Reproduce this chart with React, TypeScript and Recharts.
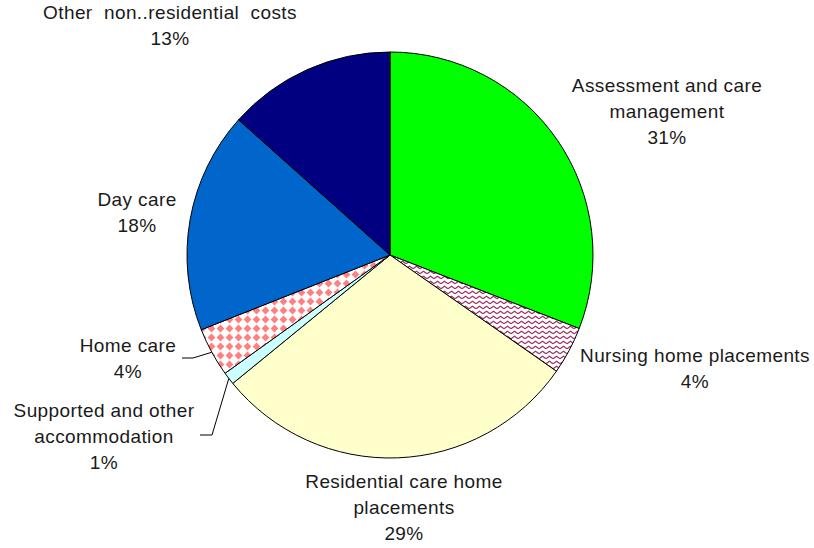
import { PieChart, Pie, Cell } from 'recharts';

const categories = [
  'Assessment and care management',
  'Nursing home placements',
  'Residential care home placements',
  'Supported and other accommodation',
  'Home care',
  'Day care',
  'Other non..residential costs',
];
const shares = [30.9, 3.8, 29.4, 1.0, 3.9, 17.6, 13.4];
const labelLines = [
  ['Assessment and care', 'management'],
  ['Nursing home placements'],
  ['Residential care home', 'placements'],
  ['Supported and other', 'accommodation'],
  ['Home care'],
  ['Day care'],
  ['Other  non..residential  costs'],
];

const fills = ['#00FF00', 'url(#zigzag)', '#FFFFCC', '#CCFFFF', 'url(#diamonds)', '#0066CC', '#000080'];

// where Excel put each label (centre x, first baseline)
const labelPos = [
  { x: 667, y: 92 },
  { x: 695, y: 362 },
  { x: 404, y: 488 },
  { x: 104, y: 417 },
  { x: 128, y: 352 },
  { x: 137, y: 206 },
  { x: 170, y: 19 },
];
// leader lines: start point and elbow, end is on the slice edge
const leaders: Record<number, number[]> = {
  3: [200, 435, 212, 435],
  4: [182, 358, 193, 358],
};

const data = categories.map((name, i) => ({ name, value: shares[i] }));
const RAD = Math.PI / 180;

function renderLabel(props: any) {
  const { index, percent, cx, cy, midAngle, outerRadius } = props;
  const pos = labelPos[index];
  const lines = [...labelLines[index], `${Math.round(percent * 100)}%`];
  const lead = leaders[index];
  let leader = null;
  if (lead) {
    const ex = cx + outerRadius * Math.cos(-midAngle * RAD);
    const ey = cy + outerRadius * Math.sin(-midAngle * RAD);
    leader = (
      <polyline
        points={`${lead[0]},${lead[1]} ${lead[2]},${lead[3]} ${ex},${ey}`}
        fill="none"
        stroke="#000"
        strokeWidth={1}
      />
    );
  }
  return (
    <g key={`lbl-${index}`}>
      {leader}
      <text
        x={pos.x}
        y={pos.y}
        textAnchor="middle"
        fill="#1a1a1a"
        fontSize={19}
        fontFamily="'Liberation Sans', Arial, sans-serif"
        letterSpacing={0.4}
        style={{ whiteSpace: 'pre' }}
      >
        {lines.map((l, j) => (
          <tspan key={j} x={pos.x} y={pos.y + j * 26}>
            {l}
          </tspan>
        ))}
      </text>
    </g>
  );
}

export default function App() {
  return (
    <div style={{ position: 'absolute', left: 0, top: 0, width: 814, height: 548, background: '#fff' }}>
      <PieChart width={814} height={548} margin={{ top: 0, right: 0, bottom: 0, left: 0 }}>
        <defs>
          <pattern id="zigzag" width="7" height="5" patternUnits="userSpaceOnUse">
            <rect width="7" height="5" fill="#fff" />
            <path d="M0 3.8 L3.5 1.2 L7 3.8" fill="none" stroke="#993366" strokeWidth="1.1" />
          </pattern>
          <pattern id="diamonds" width="9" height="9" patternUnits="userSpaceOnUse">
            <rect width="9" height="9" fill="#fff" />
            <polygon points="4.5,0.6 8.4,4.5 4.5,8.4 0.6,4.5" fill="#FF8080" />
          </pattern>
        </defs>
        <Pie
          data={data}
          dataKey="value"
          nameKey="name"
          cx={390}
          cy={255}
          outerRadius={203}
          startAngle={90}
          endAngle={-270}
          stroke="#000"
          strokeWidth={1}
          label={renderLabel}
          labelLine={false}
          isAnimationActive={false}
        >
          {data.map((d, i) => (
            <Cell key={d.name} fill={fills[i]} />
          ))}
        </Pie>
      </PieChart>
    </div>
  );
}
